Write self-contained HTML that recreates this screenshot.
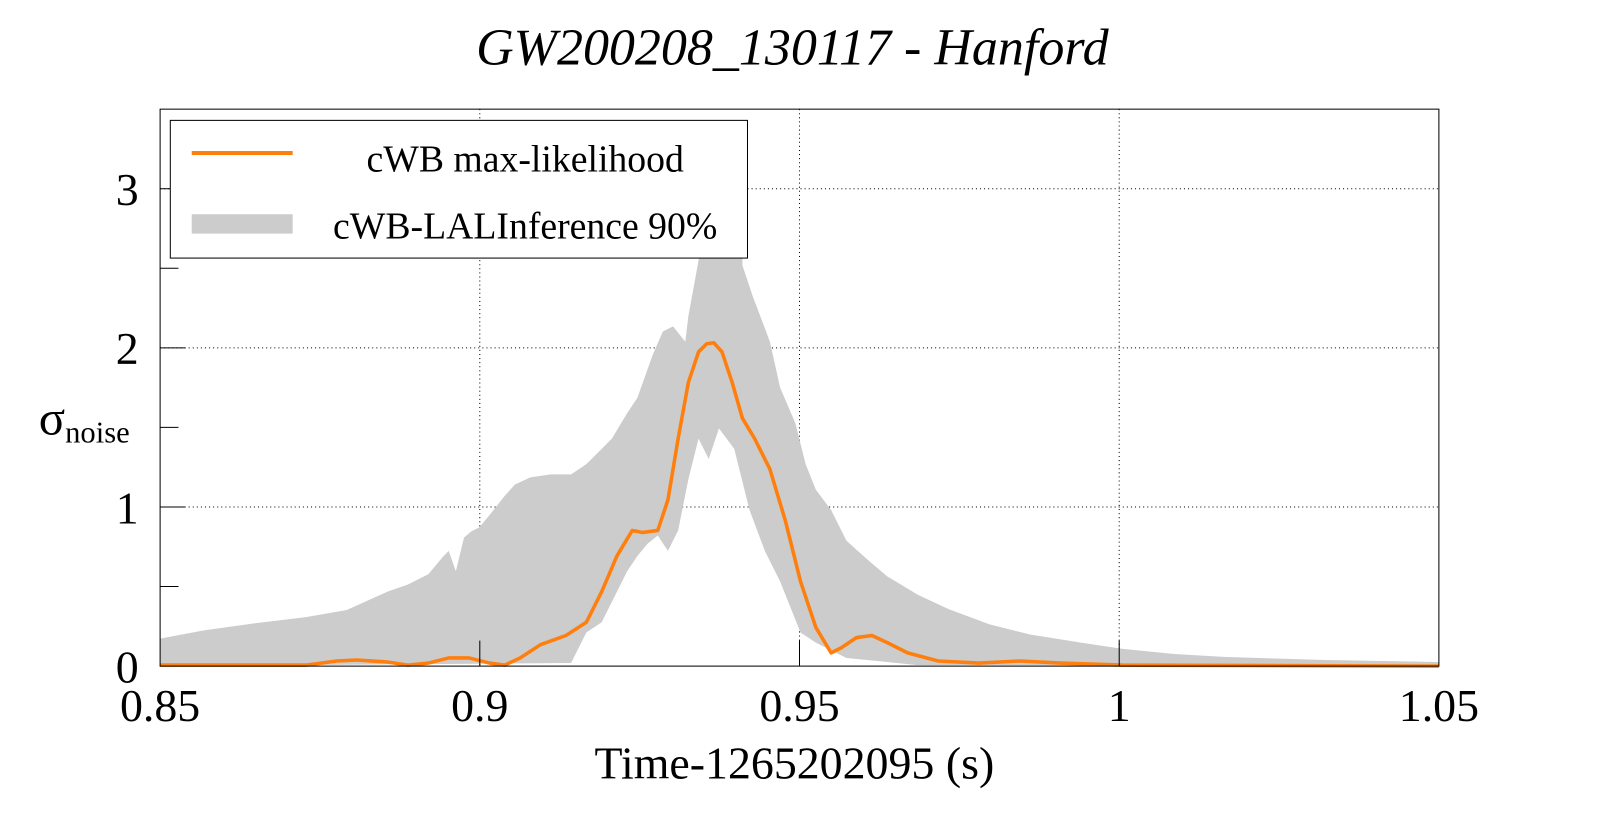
<!DOCTYPE html>
<html><head><meta charset="utf-8"><style>body{margin:0;background:#fff}</style></head><body>
<svg width="1599" height="813" viewBox="0 0 1568 797" preserveAspectRatio="none" xmlns="http://www.w3.org/2000/svg" font-family="Liberation Serif, serif" style="display:block">
<rect width="1568" height="797" fill="#fff"/>
<text x="777" y="63" font-size="51" font-style="italic" text-anchor="middle">GW200208_130117 - Hanford</text>
<g stroke="#000" stroke-width="1" stroke-dasharray="1,3">
<line x1="470.5" y1="107" x2="470.5" y2="653"/><line x1="784" y1="107" x2="784" y2="653"/><line x1="1097.5" y1="107" x2="1097.5" y2="653"/>
<line x1="157" y1="497" x2="1411" y2="497"/><line x1="157" y1="341" x2="1411" y2="341"/><line x1="157" y1="185" x2="1411" y2="185"/>
</g>
<polygon fill="#cccccc" points="157,626 200,618 250,611 300,605 340,598 380,580 400,573 420,563 435,545 440,540 447,560 455,527 462,521 470,517 480,505 495,486 505,475 520,468 540,465 560,465 575,455 590,440 600,430 615,405 625,390 640,348 650,325 660,320 672,335 675,310 690,228 695,200 728,200 728,260 738,290 755,335 765,380 780,415 790,455 800,480 815,500 830,530 850,548 870,565 900,583 930,597 970,612 1010,622 1060,630 1100,636 1150,641 1200,644 1300,647 1411,649 1411,653 900,652 830,645 800,630 785,620 775,595 765,570 750,540 735,500 720,440 705,420 695,450 685,430 675,470 665,520 655,540 645,525 635,533 625,545 615,560 600,590 590,610 575,620 560,650 157,653"/>
<polyline fill="none" stroke="#ff7f0e" stroke-width="3.5" stroke-linejoin="round" points="157,652 300,652 330,648 350,647 380,649 400,652 420,650 440,645 460,645 480,650 495,652 510,645 530,632 555,623 575,610 590,580 605,545 620,520 630,522 645,520 655,490 665,430 675,375 685,345 693,337 700,336 708,345 718,375 728,410 740,430 755,460 770,510 785,570 800,615 815,640 825,635 840,625 855,623 870,630 890,640 920,648 960,650 1000,648 1040,650 1100,652 1411,653"/>
<rect x="157" y="107" width="1254" height="546" fill="none" stroke="#000" stroke-width="1"/>
<g stroke="#000" stroke-width="1">
<line x1="157" y1="575" x2="175" y2="575"/><line x1="157" y1="497" x2="182" y2="497"/><line x1="157" y1="419" x2="175" y2="419"/><line x1="157" y1="341" x2="182" y2="341"/><line x1="157" y1="263" x2="175" y2="263"/><line x1="157" y1="185" x2="182" y2="185"/>
<line x1="470.5" y1="653" x2="470.5" y2="628"/><line x1="784" y1="653" x2="784" y2="628"/><line x1="1097.5" y1="653" x2="1097.5" y2="628"/>
</g>
<rect x="167" y="118" width="566" height="135" fill="#fff" stroke="#000" stroke-width="1"/>
<line x1="188" y1="150" x2="287" y2="150" stroke="#ff7f0e" stroke-width="4"/>
<rect x="188" y="210" width="99" height="19" fill="#cccccc"/>
<text x="515" y="168" font-size="37" text-anchor="middle">cWB max-likelihood</text>
<text x="515" y="234" font-size="37" text-anchor="middle">cWB-LALInference 90%</text>
<g font-size="45" text-anchor="end">
<text x="136" y="669">0</text><text x="136" y="513">1</text><text x="136" y="357">2</text><text x="136" y="201">3</text>
</g>
<g font-size="45" text-anchor="middle">
<text x="157" y="707">0.85</text><text x="470.5" y="707">0.9</text><text x="784" y="707">0.95</text><text x="1097.5" y="707">1</text><text x="1411" y="707">1.05</text>
</g>
<text x="779" y="763" font-size="45" text-anchor="middle">Time-1265202095 (s)</text>
<text x="38" y="426" font-size="48">σ<tspan font-size="30" dy="8">noise</tspan></text>
</svg>
</body></html>
